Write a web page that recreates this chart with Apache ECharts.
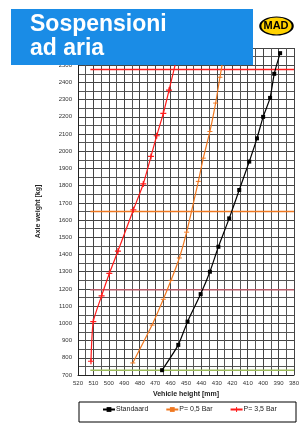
<!DOCTYPE html>
<html>
<head>
<meta charset="utf-8">
<script src="https://cdn.jsdelivr.net/npm/echarts@6/dist/echarts.min.js"></script>
<style>
  html, body { margin: 0; padding: 0; background: #fff; }
  #chart { width: 307px; height: 427px; }
</style>
</head>
<body>
<div id="chart"></div>
<script>
// values: [vehicle height mm, axle weight kg]
const standard = [[465.5, 728], [455, 875], [449, 1010], [440.5, 1170], [434.5, 1300], [429, 1445], [422, 1610],
  [415.5, 1775], [409, 1940], [404, 2075], [400, 2200], [395.5, 2310], [392.8, 2450], [389, 2570]]
const p05 = [[484.5, 770], [472, 990], [464.7, 1140], [459.7, 1250], [454.3, 1380], [449.6, 1530], [442, 1825],
  [438.8, 1960], [434.5, 2115], [430.8, 2280], [428, 2430], [425.5, 2560]]
const p35 = [[511.6, 780], [510.1, 1010], [504.7, 1160], [499.7, 1290], [494.1, 1420], [484.1, 1660], [477.7, 1810],
  [472.7, 1970], [469, 2090], [464.7, 2220], [461, 2355], [455.5, 2560]]
// horizontal reference levels
const refLines = [
  { value: 2475, color: '#ff1a1a' },
  { value: 1650, color: '#f07820' },
  { value: 1195, color: '#b85a68' },
  { value: 728, color: '#9bbb59' }
]
const refStart = 512
const refEnd = 380

const chart = echarts.init(document.getElementById('chart'))

const lineSeries = (name, data, color, symbol, size) => ({
  name: name,
  type: 'line',
  data: data,
  smooth: 0.2,
  clip: false,
  symbol: symbol,
  symbolSize: size,
  showSymbol: true,
  lineStyle: { color: color, width: 1.2 },
  itemStyle: { color: color },
  z: 5
})

const series = refLines.map(r => ({
  type: 'line',
  data: [[refStart, r.value], [refEnd, r.value]],
  symbol: 'none',
  lineStyle: { color: r.color, width: 1.5 },
  silent: true,
  z: 3
}))
series.push(lineSeries('Standaard', standard, '#000000', 'rect', 4))
series.push(lineSeries('P= 0,5 Bar', p05, '#f07820', 'path://M0,0L10,0L10,1L0,1Z', [5, 1]))
series.push(lineSeries('P= 3,5 Bar', p35, '#ff1a1a', 'path://M0,4L10,4L10,6L0,6ZM4,0L6,0L6,10L4,10Z', 6))

chart.setOption({
  animation: false,
  grid: { left: 78, right: 13, top: 48, bottom: 52 },
  xAxis: {
    type: 'value',
    min: 380,
    max: 520,
    interval: 10,
    inverse: true,
    name: 'Vehicle height [mm]',
    nameLocation: 'middle',
    nameGap: 14,
    nameTextStyle: { fontSize: 7, fontWeight: 'bold', color: '#222', fontFamily: 'Liberation Sans' },
    axisLine: { lineStyle: { color: '#222', width: 1 } },
    axisTick: { show: false },
    axisLabel: { fontSize: 6, color: '#333', margin: 5, fontFamily: 'Liberation Sans' },
    splitLine: { lineStyle: { color: '#444', width: 1 } },
    minorTick: { show: false, splitNumber: 2 },
    minorSplitLine: { show: true, lineStyle: { color: '#555', width: 1 } }
  },
  yAxis: {
    type: 'value',
    min: 700,
    max: 2600,
    interval: 100,
    name: 'Axle weight [kg]',
    nameLocation: 'middle',
    nameGap: 36,
    nameTextStyle: { fontSize: 7, fontWeight: 'bold', color: '#222', fontFamily: 'Liberation Sans' },
    axisLine: { show: true, lineStyle: { color: '#222', width: 1 } },
    axisTick: { show: false },
    axisLabel: { fontSize: 6, color: '#333', margin: 6, fontFamily: 'Liberation Sans', formatter: v => String(v) },
    splitLine: { lineStyle: { color: '#444', width: 1 } },
    minorTick: { show: false, splitNumber: 2 },
    minorSplitLine: { show: true, lineStyle: { color: '#555', width: 1 } }
  },
  legend: {
    data: ['Standaard', 'P= 0,5 Bar', 'P= 3,5 Bar'],
    left: 102,
    top: 406,
    itemWidth: 12,
    itemHeight: 6,
    itemGap: 17,
    padding: 0,
    textStyle: { fontSize: 7, color: '#222', fontFamily: 'Liberation Sans', padding: [0, 0, 0, -4] }
  },
  graphic: [
    {
      type: 'rect',
      shape: { x: 79, y: 402, width: 217, height: 20 },
      style: { fill: 'none', stroke: '#000', lineWidth: 1 },
      z: 10
    },
    {
      type: 'rect',
      shape: { x: 11, y: 9, width: 242, height: 56 },
      style: { fill: '#1a8ce6' },
      z: 100
    },
    {
      type: 'text',
      x: 30,
      y: 13,
      style: {
        text: 'Sospensioni\nad aria',
        fill: '#fff',
        font: 'bold 23px "Liberation Sans"',
        lineHeight: 24
      },
      z: 101
    },
    {
      type: 'circle',
      x: 276.5,
      y: 26,
      scaleX: 1.8,
      shape: { cx: 0, cy: 0, r: 9 },
      style: { fill: '#ffd200', stroke: '#000', lineWidth: 1.2 },
      z: 100
    },
    {
      type: 'text',
      x: 276,
      y: 26,
      style: {
        text: 'MAD',
        fill: '#000',
        font: 'bold 11px "Liberation Sans"',
        align: 'center',
        verticalAlign: 'middle'
      },
      z: 101
    }
  ],
  series: series
})
</script>
</body>
</html>
